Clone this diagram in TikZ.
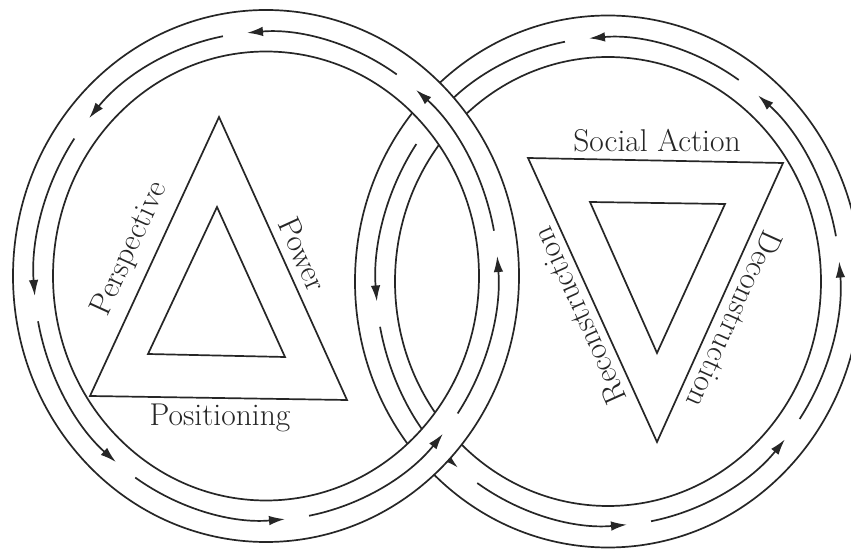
\documentclass[tikz,border=0pt]{standalone}
\usepackage{fontspec}
\usetikzlibrary{arrows.meta,calc}
\tikzset{
  ring/.style={line width=1.7pt, draw=black!85},
  track/.style={line width=1.7pt, draw=black!85, -{Latex[length=16pt,width=9.5pt]}},
  tri/.style={line width=1.7pt, draw=black!85, line join=miter},
  lbl/.style={font=\fontsize{31.5}{36}\selectfont, text=black!85, inner sep=0pt},
}
\begin{document}
\begin{tikzpicture}[x=1pt,y=1pt]
\useasboundingbox (0,0) rectangle (851,549);
\clip (0,0) rectangle (851,549);
\fill[white] (0,0) rectangle (851,549);
\coordinate (cL) at (266,273);
\coordinate (cR) at (608,267.5);
% ---- right circle (passes under the left one)
\draw[ring] (cR) ellipse[x radius=253pt, y radius=266pt];
\draw[ring] (cR) ellipse[x radius=213pt, y radius=224.5pt];
\foreach \k in {0,...,7}{
  \pgfmathsetmacro\s{100.7+45*\k}
  \pgfmathsetmacro\e{139.7+45*\k}
  \draw[track] ($(cR)+({232*cos(\s)},{244*sin(\s)})$) arc[start angle=\s, end angle=\e, x radius=232pt, y radius=244pt];
}
% ---- left circle band on top
\fill[white, even odd rule] (cL) ellipse[x radius=253pt, y radius=266pt] (cL) ellipse[x radius=213pt, y radius=224.5pt];
\draw[ring] (cL) ellipse[x radius=253pt, y radius=266pt];
\draw[ring] (cL) ellipse[x radius=213pt, y radius=224.5pt];
\foreach \k in {0,...,7}{
  \pgfmathsetmacro\s{100.7+45*\k}
  \pgfmathsetmacro\e{139.7+45*\k}
  \draw[track] ($(cL)+({232*cos(\s)},{244*sin(\s)})$) arc[start angle=\s, end angle=\e, x radius=232pt, y radius=244pt];
}
% ---- left triangles
\coordinate (LA) at (219,432);
\coordinate (LB) at (90,153);
\coordinate (LC) at (347,149);
\coordinate (la) at (217,342);
\coordinate (lb) at (148,195);
\coordinate (lc) at (285,192);
\draw[tri] (LA) -- (LB) -- (LC) -- cycle;
\draw[tri] (la) -- (lb) -- (lc) -- cycle;
% ---- right triangles
\coordinate (RA) at (528,391);
\coordinate (RB) at (783,386);
\coordinate (RC) at (657,107);
\coordinate (ra) at (590,347);
\coordinate (rb) at (725,345);
\coordinate (rc) at (657,196);
\draw[tri] (RA) -- (RB) -- (RC) -- cycle;
\draw[tri] (ra) -- (rb) -- (rc) -- cycle;
% ---- labels
\node[lbl, rotate=65.4] (tPersp) at (130,300) {Perspective};
\node[lbl, rotate=-65.5] (tPower) at (303,295) {Power};
\node[lbl, anchor=base] (tPos) at (220,124) {Positioning};
\node[lbl, anchor=base] (tSoc) at (657,397) {Social Action};
\node[lbl, rotate=114] (tRec) at (579,233) {Reconstruction};
\node[lbl, rotate=-114.3] (tDec) at (735,229) {Deconstruction};
\end{tikzpicture}
\end{document}
